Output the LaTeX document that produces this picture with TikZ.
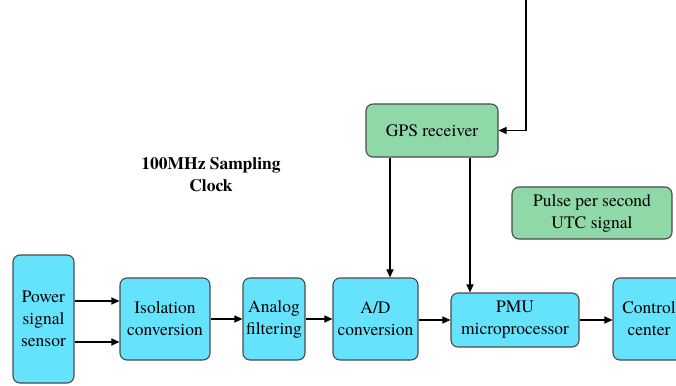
\documentclass[tikz,border=0pt]{standalone}
\usepackage{fontspec}
\setmainfont{TeX Gyre Termes}
\usetikzlibrary{arrows.meta}
\definecolor{boxcyan}{HTML}{66E3FC}
\definecolor{boxgreen}{HTML}{8FD8A8}
\definecolor{boxline}{HTML}{4A4A4A}
\tikzset{
  block/.style={draw=boxline, line width=1.1pt, rounded corners=7pt, fill=boxcyan,
    align=center, inner sep=0pt, font=\rmfamily\fontsize{17.5}{22}\selectfont},
  gblock/.style={block, fill=boxgreen},
  link/.style={-{Triangle[length=8pt,width=7pt]}, line width=1.2pt, black},
}
\begin{document}
\begin{tikzpicture}[x=1pt,y=-1pt]
\clip (0,0) rectangle (676,385);
\fill[white] (0,0) rectangle (676,385);

% signal chain
\node[block, minimum width=61pt, minimum height=128pt] (sensor) at (43.5,319) {Power\\signal\\sensor};
\node[block, minimum width=90pt, minimum height=82pt] (iso) at (165,319) {Isolation\\conversion};
\node[block, minimum width=62pt, minimum height=82pt] (filt) at (274,319) {Analog\\filtering};
\node[block, minimum width=85pt, minimum height=82pt] (adc) at (375.5,319) {A/D\\conversion};
\node[block, minimum width=128pt, minimum height=54pt] (pmu) at (515,320) {PMU\\microprocessor};
\node[block, minimum width=72pt, minimum height=82pt] (ctrl) at (649,319) {Control\\center};

% timing sources
\node[gblock, minimum width=132pt, minimum height=53pt] (gps) at (432,130.5) {GPS receiver};
\node[gblock, minimum width=160pt, minimum height=52pt] (pps) at (592,213) {Pulse per second\\UTC signal};
\node[align=center, font=\rmfamily\fontsize{17.5}{22}\selectfont\bfseries] (clk) at (211,175) {100MHz Sampling\\Clock};

% connectors
\coordinate (ant) at (526,0);
\draw[link] (ant) |- (gps.east);
\draw[link] ([yshift=18pt]sensor.east) -- ([yshift=18pt]sensor.east -| iso.west);
\draw[link] ([yshift=-23pt]sensor.east) -- ([yshift=-23pt]sensor.east -| iso.west);
\draw[link] (iso.east) -- (filt.west);
\draw[link] (filt.east) -- (adc.west);
\draw[link] ([yshift=-1pt]adc.east) -- (pmu.west);
\draw[link] (pmu.east) -- (pmu.east -| ctrl.west);
\draw[link] ([xshift=-42pt]gps.south) -- ([xshift=-42pt]gps.south |- adc.north);
\draw[link] ([xshift=38pt]gps.south) -- ([xshift=38pt]gps.south |- pmu.north);
\end{tikzpicture}
\end{document}
